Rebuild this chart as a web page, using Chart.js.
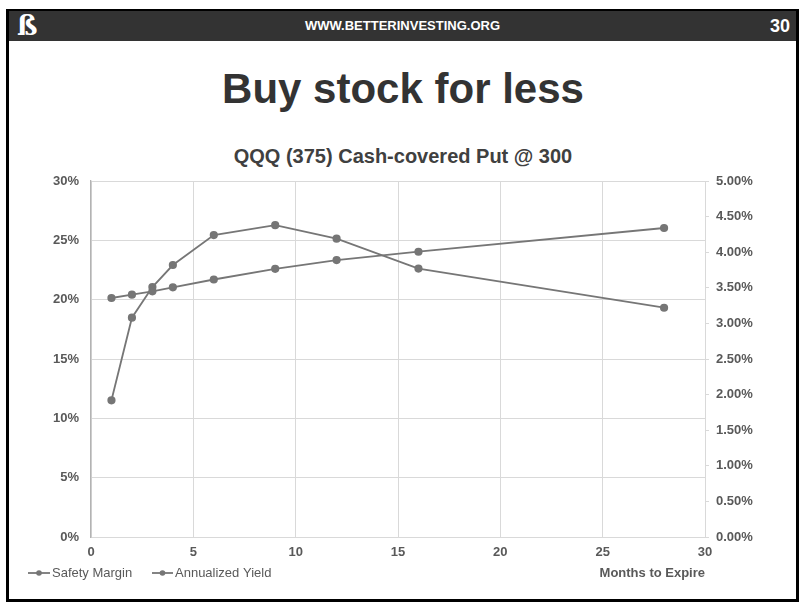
<!DOCTYPE html>
<html>
<head>
<meta charset="utf-8">
<script src="https://cdn.jsdelivr.net/npm/chart.js@4"></script>
<style>
  html, body { margin:0; padding:0; background:#fff; width:803px; height:605px; overflow:hidden; font-family:"Liberation Sans", Arial, sans-serif; }
  #frame { position:absolute; left:6px; top:9px; width:787px; height:588px; border:3px solid #000; border-top-width:2px; box-sizing:content-box; }
  #header { position:absolute; left:9px; top:11px; width:787px; height:30px; background:#333333; color:#fff; }
  #logo { position:absolute; left:8px; top:-1px; font:bold 27px "DejaVu Serif", serif; color:#fff; line-height:32px; }
  #url { position:absolute; left:0; width:100%; top:0; text-align:center; font:bold 13px "Liberation Sans", Arial, sans-serif; line-height:30px; }
  #page { position:absolute; right:6px; top:0; font:bold 18px "Liberation Sans", Arial, sans-serif; line-height:30px; }
  #title { position:absolute; left:0; width:806px; top:64px; text-align:center; font:bold 42px "Liberation Sans", Arial, sans-serif; color:#333333; line-height:50px; }
  #subtitle { position:absolute; left:0; width:806px; top:144px; text-align:center; font:bold 20px "Liberation Sans", Arial, sans-serif; color:#404040; line-height:24px; }
  canvas { position:absolute; left:0; top:0; }
</style>
</head>
<body>
<div id="frame"></div>
<div id="header"><div id="logo">ß</div><div id="url">WWW.BETTERINVESTING.ORG</div><div id="page">30</div></div>
<div id="title">Buy stock for less</div>
<div id="subtitle">QQQ (375) Cash-covered Put @ 300</div>
<canvas id="c" width="803" height="605"></canvas>
<script>
// Data
const months = [1, 2, 3, 4, 6, 9, 12, 16, 28];
const safetyMargin = [20.14, 20.42, 20.70, 21.04, 21.70, 22.60, 23.34, 24.04, 26.04];   // % (left axis)
const annualizedYield = [1.92, 3.08, 3.51, 3.82, 4.24, 4.38, 4.19, 3.77, 3.22];        // % (right axis)
const seriesNames = ["Safety Margin", "Annualized Yield"];
const xAxisTitle = "Months to Expire";

const lineColor = "#767676";
const textColor = "#595959";
const gridColor = "#d9d9d9";
const tickFont = { family: "Liberation Sans, Arial, sans-serif", size: 13, weight: "bold" };

const legendPlugin = {
  id: "customLegend",
  afterDraw(chart) {
    const ctx = chart.ctx;
    const y = 573;
    const items = [
      { x0: 28, x1: 50, label: chart.data.datasets[0].label },
      { x0: 152, x1: 173, label: chart.data.datasets[1].label }
    ];
    ctx.save();
    ctx.font = "13px Liberation Sans, Arial, sans-serif";
    ctx.textBaseline = "middle";
    ctx.textAlign = "left";
    items.forEach(it => {
      ctx.strokeStyle = lineColor;
      ctx.lineWidth = 1.8;
      ctx.beginPath(); ctx.moveTo(it.x0, y); ctx.lineTo(it.x1, y); ctx.stroke();
      ctx.fillStyle = lineColor;
      ctx.beginPath(); ctx.arc((it.x0 + it.x1) / 2, y, 2.8, 0, Math.PI * 2); ctx.fill();
      ctx.fillStyle = textColor;
      ctx.fillText(it.label, it.x1 + 2, y + 0.5);
    });
    ctx.restore();
  }
};

const toPoints = (xs, ys) => xs.map((x, i) => ({ x: x, y: ys[i] }));

new Chart(document.getElementById("c"), {
  type: "line",
  data: {
    datasets: [
      {
        label: seriesNames[0],
        data: toPoints(months, safetyMargin),
        yAxisID: "yL",
        borderColor: lineColor, backgroundColor: lineColor,
        pointBackgroundColor: lineColor, pointBorderColor: lineColor,
        borderWidth: 1.8, pointRadius: 3.2, pointHoverRadius: 3.2, tension: 0
      },
      {
        label: seriesNames[1],
        data: toPoints(months, annualizedYield),
        yAxisID: "yR",
        borderColor: lineColor, backgroundColor: lineColor,
        pointBackgroundColor: lineColor, pointBorderColor: lineColor,
        borderWidth: 1.8, pointRadius: 3.2, pointHoverRadius: 3.2, tension: 0
      }
    ]
  },
  options: {
    responsive: false,
    animation: false,
    devicePixelRatio: 1,
    layout: { padding: { top: 181, left: 0, right: 0, bottom: 0 } },
    plugins: { legend: { display: false }, title: { display: false }, tooltip: { enabled: false } },
    scales: {
      x: {
        type: "linear", position: "bottom", min: 0, max: 30,
        ticks: { stepSize: 5, color: textColor, font: tickFont, padding: 8, maxRotation: 0 },
        grid: { color: gridColor, drawTicks: false, lineWidth: 1 },
        border: { color: gridColor, width: 1 },
        title: { display: true, text: xAxisTitle, align: "end", color: textColor, font: tickFont, padding: { top: 0, bottom: 24 } },
        afterFit(s) { s.height = 68; }
      },
      yL: {
        type: "linear", position: "left", min: 0, max: 30,
        ticks: { stepSize: 5, color: textColor, font: tickFont, padding: 12, callback: v => v + "%" },
        grid: { color: gridColor, drawTicks: false, lineWidth: 1 },
        border: { color: "#b3b3b3", width: 1.3 },
        afterFit(s) { s.width = 91; }
      },
      yR: {
        type: "linear", position: "right", min: 0, max: 5,
        ticks: { stepSize: 0.5, color: textColor, font: tickFont, padding: 7, callback: v => v.toFixed(2) + "%" },
        grid: { color: gridColor, drawOnChartArea: false, drawTicks: true, tickLength: 4 },
        border: { color: gridColor, width: 1 },
        afterFit(s) { s.width = 98; }
      }
    }
  },
  plugins: [legendPlugin]
});
</script>
</body>
</html>
